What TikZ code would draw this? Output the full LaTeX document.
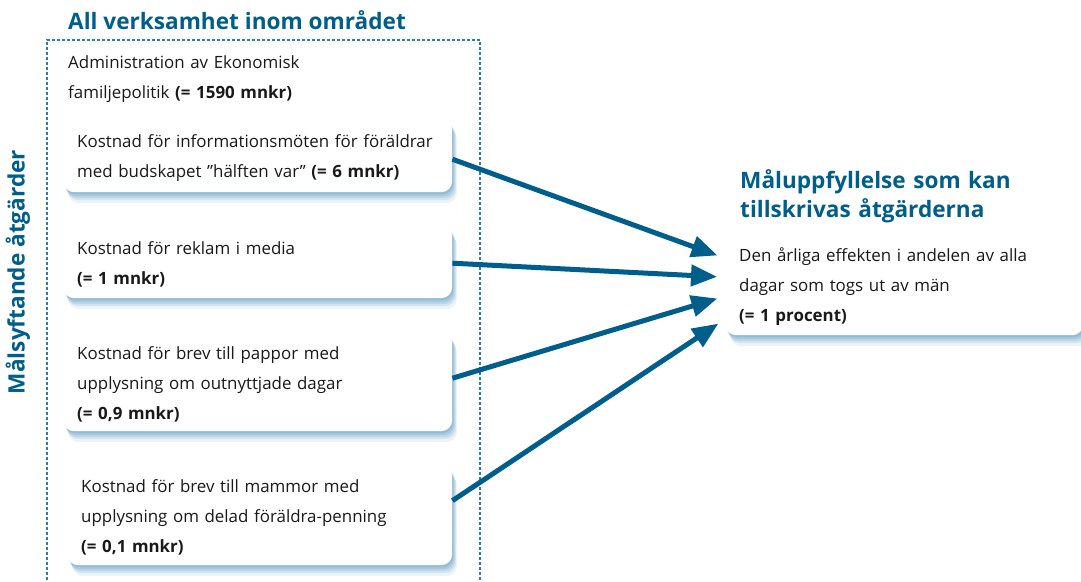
\documentclass[tikz,border=0pt]{standalone}
\usepackage{fontspec}
\setmainfont{Open Sans}
\usetikzlibrary{shadows,arrows.meta}
\definecolor{tblue}{RGB}{0,94,140}
\definecolor{dblue}{RGB}{45,125,170}
\definecolor{sblue}{RGB}{55,130,178}
\definecolor{tgray}{RGB}{25,25,25}
\begin{document}
\begin{tikzpicture}[x=1pt,y=-1pt,
  title/.style={anchor=base west, inner sep=0pt, text=tblue, font=\fontsize{22.6}{29}\selectfont\bfseries, align=left},
  plain/.style={anchor=base west, inner sep=0pt, text=tgray, font=\fontsize{16.9}{30}\selectfont, align=left},
  card/.style={fill=white, rounded corners=11pt, anchor=north west, align=left,
    inner xsep=14pt, inner ysep=0pt, text=tgray, font=\fontsize{16.9}{30}\selectfont,
    text height=18.5pt,
    drop shadow={shadow xshift=1pt, shadow yshift=-2pt, fill=sblue, opacity=0.18},
    drop shadow={shadow xshift=2pt, shadow yshift=-4pt, fill=sblue, opacity=0.17},
    drop shadow={shadow xshift=3pt, shadow yshift=-6pt, fill=sblue, opacity=0.15},
    drop shadow={shadow xshift=4pt, shadow yshift=-8pt, fill=sblue, opacity=0.13},
    drop shadow={shadow xshift=5pt, shadow yshift=-11pt, fill=sblue, opacity=0.09}},
  arr/.style={draw=tblue, line width=5pt, -{Triangle[length=26pt,width=21pt]}, shorten >=8pt}
]
\useasboundingbox (0,0) rectangle (1081,581);
% dashed area
\draw[dblue, line width=1.1pt, dash pattern=on 3pt off 2pt] (47,590) -- (47,40) -- (480,40) -- (480,590);
\node[title] (t1) at (68,29) {All verksamhet inom området};
\node[anchor=center, rotate=90, inner sep=0pt, text=tblue, font=\fontsize{22.6}{29}\selectfont\bfseries] (side) at (18,272) {Målsyftande åtgärder};
\node[plain, text width=330pt] (adm) at (68,68) {Administration av Ekonomisk\\familjepolitik \textbf{(= 1590 mnkr)}};

\node[card, text width=361pt, minimum height=74pt] (b1) at (63,118)
  {Kostnad för informationsmöten för föräldrar\\med budskapet ”hälften var” \textbf{(= 6 mnkr)}};
\node[card, text width=361pt, minimum height=74pt] (b2) at (63,224)
  {Kostnad för reklam i media\\\textbf{(= 1 mnkr)}};
\node[card, text width=361pt, minimum height=100pt] (b3) at (63,331)
  {Kostnad för brev till pappor med\\upplysning om outnyttjade dagar\\\textbf{(= 0,9 mnkr)}};
\node[card, text width=357pt, minimum height=101pt] (b4) at (67,464)
  {Kostnad för brev till mammor med\\upplysning om delad föräldra-penning\\\textbf{(= 0,1 mnkr)}};

\node[title, text width=330pt] (t2) at (740,188) {Måluppfyllelse som kan\\tillskrivas åtgärderna};
\node[card, text width=330pt, minimum height=101pt] (res) at (725,234)
  {Den årliga effekten i andelen av alla\\dagar som togs ut av män\\\textbf{(= 1 procent)}};

\draw[arr] ([yshift=-4pt]b1.east) -- ([yshift=26.5pt]res.west);
\draw[arr] ([yshift=-2pt]b2.east) -- ([yshift=7.5pt]res.west);
\draw[arr] ([yshift=3pt]b3.east) -- ([yshift=-11.5pt]res.west);
\draw[arr] ([yshift=14pt]b4.east) -- ([yshift=-34.5pt]res.west);
\end{tikzpicture}
\end{document}
